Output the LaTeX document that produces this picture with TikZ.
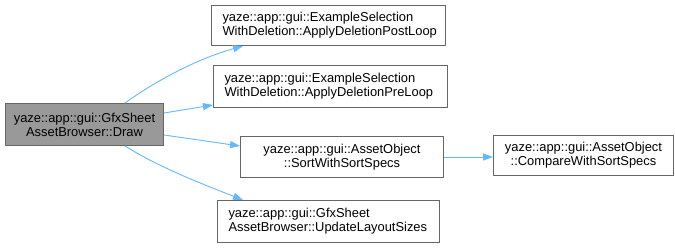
\documentclass[tikz,border=0pt]{standalone}
\usepackage{fontspec}
\setmainfont{Liberation Sans}
\usetikzlibrary{arrows.meta,calc}
\definecolor{edgeblue}{HTML}{63B8FF}
\definecolor{boxline}{HTML}{666666}
\definecolor{rootfill}{HTML}{999999}
\begin{document}
\begin{tikzpicture}[x=1pt,y=-1pt,
  fnbox/.style={draw=boxline,line width=1pt,fill=white,anchor=north west,inner sep=0pt,
    font=\fontsize{12.9}{14}\selectfont},
  rootbox/.style={fnbox,fill=rootfill},
  leftbox/.style={fnbox,inner xsep=11pt,align=left},
  call/.style={draw=edgeblue,line width=0.9pt,-{Triangle[length=10pt,width=7pt]}}]
\useasboundingbox (0,0) rectangle (675,247);

% function boxes
\node[rootbox,minimum width=158pt,minimum height=42pt,align=center] (draw) at (5,103)
  {yaze::app::gui::GfxSheet\\AssetBrowser::Draw};
\node[leftbox,minimum width=234pt,minimum height=40pt,text width=212pt] (post) at (211,5)
  {\mbox{yaze::app::gui::ExampleSelection}\\\mbox{WithDeletion::ApplyDeletionPostLoop}};
\node[leftbox,minimum width=234pt,minimum height=42pt,text width=212pt] (pre) at (213,65)
  {\mbox{yaze::app::gui::ExampleSelection}\\\mbox{WithDeletion::ApplyDeletionPreLoop}};
\node[fnbox,minimum width=203pt,minimum height=41pt,align=center] (sort) at (240,136)
  {yaze::app::gui::AssetObject\\::SortWithSortSpecs};
\node[leftbox,minimum width=222pt,minimum height=42pt,text width=200pt] (upd) at (217,200)
  {\mbox{yaze::app::gui::GfxSheet}\\\mbox{AssetBrowser::UpdateLayoutSizes}};
\node[fnbox,minimum width=180pt,minimum height=40pt,align=center] (cmp) at (493,135)
  {yaze::app::gui::AssetObject\\::CompareWithSortSpecs};

% calls
\draw[call] ($(draw.north west)+(120,0)$) .. controls (160,78) and (200,58) .. ($(post.south west)+(32,0)$);
\draw[call] ($(draw.north east)+(0,10)$) -- ($(pre.south west)+(0,-3)$);
\draw[call] ($(draw.north east)+(0,32)$) -- ($(sort.north west)+(0,10)$);
\draw[call] ($(draw.south west)+(120,0)$) .. controls (160,168) and (205,185) .. ($(upd.north west)+(26,0)$);
\draw[call] (sort.east) -- (cmp.west |- sort.east);
\end{tikzpicture}
\end{document}
